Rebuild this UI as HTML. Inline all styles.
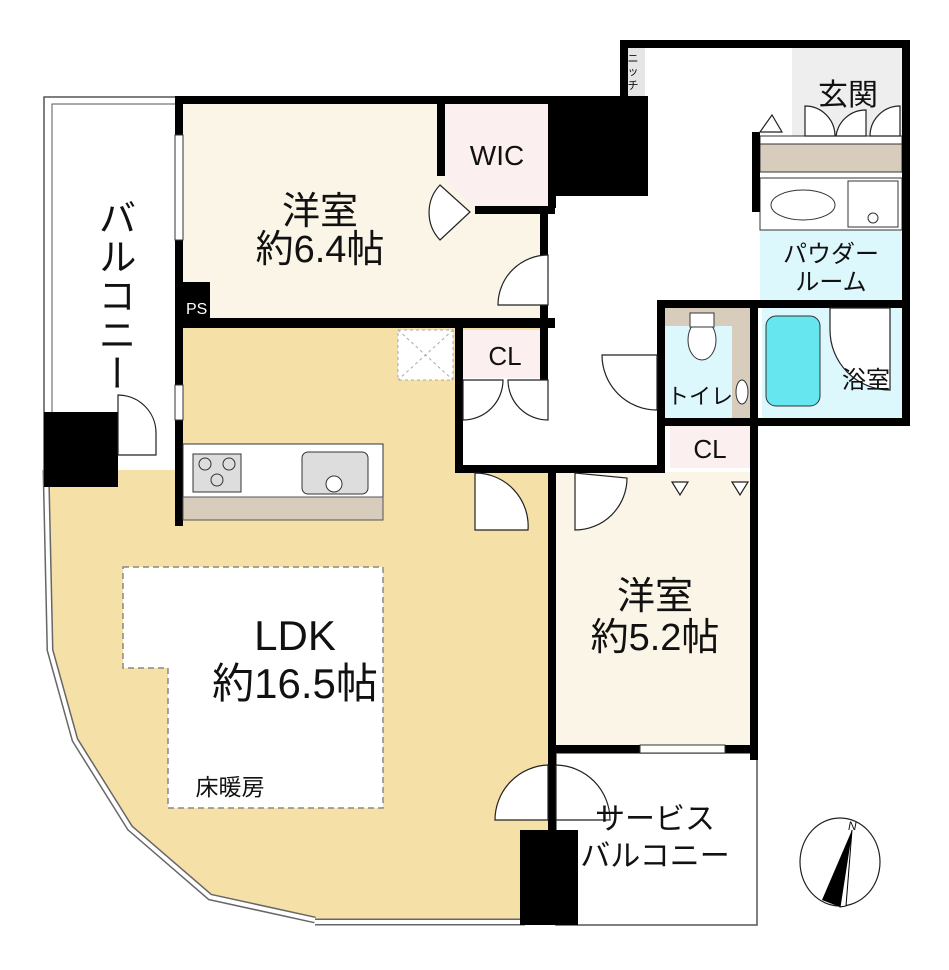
<!DOCTYPE html>
<html><head><meta charset="utf-8"><style>
html,body{margin:0;padding:0;background:#fff;}
svg{display:block;}
text{font-family:"Liberation Sans","Noto Sans CJK JP",sans-serif;fill:#111;}
</style></head><body>
<svg width="949" height="970" viewBox="0 0 949 970" xmlns="http://www.w3.org/2000/svg">
<!-- west balcony -->
<rect x="44" y="97" width="136" height="380" fill="#fff" stroke="#555" stroke-width="1.5"/>
<rect x="52" y="104" width="124" height="370" fill="none" stroke="#555" stroke-width="1"/>
<!-- LDK fill -->
<path d="M183,328 L548,328 L548,925 L315,920 L210,897 L130,828 L75,740 L50,650 L46,470 L183,470 Z" fill="#f5e0a8"/>
<path d="M315,920 L210,897 L130,828 L75,740 L50,650 L46,470" fill="none" stroke="#666" stroke-width="7"/>
<path d="M315,920 L210,897 L130,828 L75,740 L50,650 L46,470" fill="none" stroke="#fff" stroke-width="4"/>
<line x1="315" y1="922" x2="525" y2="922" stroke="#666" stroke-width="7"/>
<line x1="315" y1="922" x2="525" y2="922" stroke="#fff" stroke-width="4"/>
<!-- rooms -->
<rect x="183" y="104" width="365" height="216" fill="#faf5e6"/>
<polygon points="445,104 548,104 548,210 475,210 445,180" fill="#fcefef"/>
<rect x="463" y="330" width="85" height="48" fill="#fcefef"/>
<rect x="463" y="378" width="85" height="90" fill="#fff"/>
<rect x="556" y="472" width="194" height="276" fill="#faf5e6"/>
<rect x="670" y="425" width="80" height="43" fill="#fcefef"/>
<rect x="665" y="308" width="85" height="110" fill="#dcf8fc"/>
<rect x="665" y="308" width="85" height="18" fill="#d8ccbc"/>
<rect x="732" y="308" width="18" height="110" fill="#d8ccbc"/>
<rect x="762" y="308" width="140" height="110" fill="#dcf8fc"/>
<rect x="760" y="178" width="142" height="122" fill="#dcf8fc"/>
<rect x="760" y="178" width="142" height="52" fill="#fff" stroke="#333" stroke-width="1"/>
<rect x="792" y="48" width="110" height="88" fill="#eeeeee"/>
<rect x="760" y="136" width="142" height="8" fill="#fff" stroke="#333" stroke-width="1"/>
<rect x="760" y="144" width="142" height="28" fill="#d8ccbc" stroke="#333" stroke-width="1"/>
<rect x="622" y="48" width="23" height="48" fill="#e5e5e5"/>
<!-- service balcony -->
<rect x="556" y="753" width="201" height="172" fill="#fff" stroke="#555" stroke-width="1.5"/>
<!-- walls -->
<g fill="#000">
<rect x="175" y="96" width="380" height="8"/>
<rect x="175" y="96" width="8" height="430"/>
<rect x="548" y="96" width="100" height="100"/>
<rect x="548" y="96" width="8" height="112"/>
<rect x="437" y="96" width="8" height="80"/>
<rect x="475" y="206" width="80" height="8"/>
<rect x="540" y="206" width="8" height="120"/>
<rect x="175" y="318" width="380" height="10"/>
<rect x="183" y="282" width="27" height="40"/>
<rect x="455" y="325" width="8" height="148"/>
<rect x="540" y="325" width="8" height="55"/>
<rect x="455" y="465" width="210" height="8"/>
<rect x="548" y="472" width="8" height="358"/>
<rect x="750" y="418" width="8" height="342"/>
<rect x="548" y="745" width="210" height="8"/>
<rect x="657" y="300" width="8" height="173"/>
<rect x="657" y="300" width="253" height="8"/>
<rect x="657" y="418" width="253" height="8"/>
<rect x="750" y="300" width="8" height="125"/>
<rect x="902" y="40" width="8" height="386"/>
<rect x="620" y="40" width="290" height="8"/>
<rect x="620" y="40" width="8" height="60"/>
<rect x="752" y="132" width="8" height="80"/>
<rect x="44" y="412" width="74" height="75"/>
<rect x="520" y="830" width="58" height="95"/>
</g>
<text x="186" y="314" font-size="16" style="fill:#fff">PS</text>
<!-- windows -->
<rect x="175" y="135" width="8" height="105" fill="#fff" stroke="#333"/>
<rect x="175" y="385" width="8" height="35" fill="#fff" stroke="#333"/>
<rect x="640" y="745" width="85" height="8" fill="#fff" stroke="#333"/>
<!-- doors -->
<g fill="#fff" stroke="#222" stroke-width="1.2">
<path d="M118,395 A38,38 0 0 1 156,433 L156,455 L118,455 Z"/>
<path d="M548,255 L548,305 L498,305 A50,50 0 0 1 548,255 Z"/>
<path d="M440,185 L470,212 L440,240 A40,40 0 0 1 440,185 Z"/>
<path d="M463,380 L463,420 A40,40 0 0 0 503,380 Z"/>
<path d="M548,380 L548,420 A40,40 0 0 1 508,380 Z"/>
<path d="M475,473 L475,530 L528,530 A53,53 0 0 0 475,473 Z"/>
<path d="M575,473 L575,530 A52,52 0 0 0 627,478 Z"/>
<path d="M657,355 L657,410 A55,55 0 0 1 602,355 Z"/>
<path d="M548,765 A55,55 0 0 0 495,820 L548,820 Z"/>
<path d="M556,765 A55,55 0 0 1 610,820 L556,820 Z"/>
<path d="M830,308 L890,308 L890,390 A60,60 0 0 1 830,330 Z"/>
<path d="M836,136 A30,30 0 0 1 866,110 L866,136 Z"/>
<path d="M870,136 A30,30 0 0 1 900,106 L900,136 Z"/>
<path d="M835,136 A30,30 0 0 0 805,106 L805,136 Z"/>
<polygon points="770,132 760,132 772,115 782,132"/>
<polygon points="672,482 680,495 688,482"/>
<polygon points="732,482 740,495 748,482"/>
</g>
<!-- kitchen -->
<rect x="183" y="444" width="200" height="53" fill="#fff" stroke="#333"/>
<rect x="183" y="497" width="200" height="23" fill="#d8ccbc" stroke="#555"/>
<rect x="193" y="454" width="48" height="38" fill="#ddd" stroke="#333"/>
<circle cx="205" cy="464" r="6" fill="none" stroke="#333"/><circle cx="229" cy="464" r="6" fill="none" stroke="#333"/><circle cx="217" cy="480" r="6" fill="none" stroke="#333"/>
<rect x="302" y="452" width="66" height="42" rx="6" fill="#ddd" stroke="#333"/>
<circle cx="334" cy="484" r="8" fill="#fff" stroke="#333"/>
<!-- fixtures -->
<ellipse cx="803" cy="205" rx="32" ry="15" fill="#fff" stroke="#333"/>
<rect x="848" y="181" width="50" height="46" fill="#fff" stroke="#333"/>
<circle cx="873" cy="218" r="5" fill="none" stroke="#333"/>
<rect x="766" y="316" width="54" height="90" rx="10" fill="#66e6ee" stroke="#333"/>
<ellipse cx="702" cy="340" rx="14" ry="20" fill="#fff" stroke="#333"/>
<rect x="690" y="313" width="24" height="14" fill="#fff" stroke="#333"/>
<ellipse cx="742" cy="392" rx="6" ry="12" fill="#fff" stroke="#333"/>
<!-- skylight -->
<rect x="398" y="330" width="55" height="50" fill="#fff" stroke="#aaa" stroke-dasharray="3,3"/>
<path d="M398,330 L453,380 M453,330 L398,380" stroke="#aaa" stroke-dasharray="3,3"/>
<!-- floor heating -->
<path d="M123,567 L383,567 L383,808 L168,808 L168,668 L123,668 Z" fill="#fff" stroke="#888" stroke-dasharray="6,4" stroke-width="1.5"/>
<!-- labels -->
<text x="320" y="224" font-size="38" text-anchor="middle">洋室</text>
<text x="320" y="262" font-size="38" text-anchor="middle">約6.4帖</text>
<text x="497" y="165" font-size="28" text-anchor="middle">WIC</text>
<text x="505" y="365" font-size="26" text-anchor="middle">CL</text>
<text x="710" y="458" font-size="26" text-anchor="middle">CL</text>
<text x="655" y="609" font-size="38" text-anchor="middle">洋室</text>
<text x="655" y="650" font-size="38" text-anchor="middle">約5.2帖</text>
<text x="295" y="650" font-size="42" text-anchor="middle">LDK</text>
<text x="295" y="698" font-size="42" text-anchor="middle">約16.5帖</text>
<text x="230" y="795" font-size="23" text-anchor="middle">床暖房</text>
<text x="848" y="105" font-size="30" text-anchor="middle">玄関</text>
<text x="831" y="262" font-size="24" text-anchor="middle">パウダー</text>
<text x="831" y="290" font-size="24" text-anchor="middle">ルーム</text>
<text x="866" y="388" font-size="24" text-anchor="middle">浴室</text>
<text x="700" y="404" font-size="22" text-anchor="middle">トイレ</text>
<text x="655" y="829" font-size="30" text-anchor="middle">サービス</text>
<text x="655" y="866" font-size="30" text-anchor="middle">バルコニー</text>
<text x="113" y="198" font-size="38" style="writing-mode:vertical-rl" letter-spacing="1">バルコニー</text>
<g font-size="11" text-anchor="middle"><text x="633" y="62">ニ</text><text x="633" y="75">ッ</text><text x="633" y="89">チ</text></g>
<!-- compass -->
<ellipse cx="840" cy="862" rx="40" ry="44" fill="#fff" stroke="#222" stroke-width="1.2"/>
<polygon points="852,830 822,900 840,907" fill="#000"/>
<polygon points="852,830 840,907 846,906" fill="#fff" stroke="#000"/>
<text x="848" y="830" font-size="12" font-style="italic">N</text>
</svg>
</body></html>
